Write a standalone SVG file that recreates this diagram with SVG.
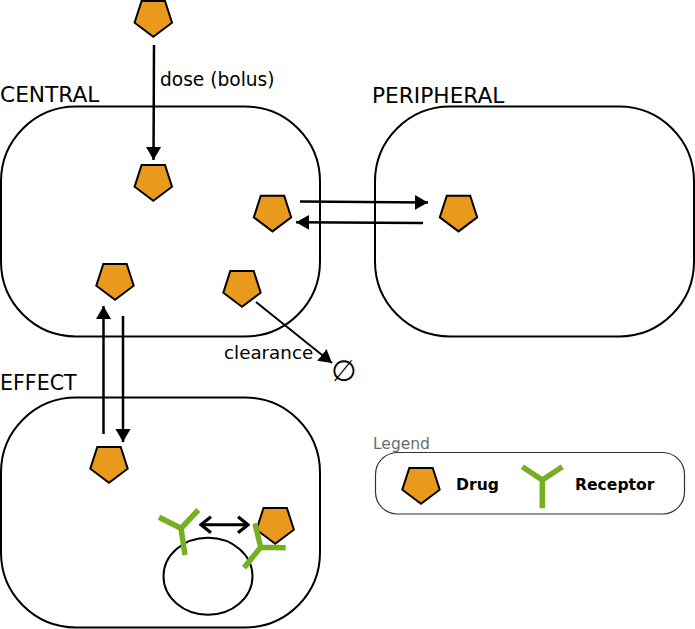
<svg xmlns="http://www.w3.org/2000/svg" width="695" height="629" viewBox="0 0 695 629">
<style>
text{font-family:"DejaVu Sans",Verdana,sans-serif;fill:#000}
.comp{fill:none;stroke:#000;stroke-width:2}
.title{font-size:21.7px}
.lab{font-size:18.6px}
.leg{font-size:15.6px;font-weight:bold}
.drug{fill:#e99a1c;stroke:#000;stroke-width:2;stroke-linejoin:miter}
.rec{fill:none;stroke:#74b020;stroke-width:5.5}
.arr{fill:none;stroke:#000;stroke-width:2.5}
.ah{fill:#000}
</style>
<defs>
<polygon id="pent" class="drug" points="-11.7,-18 11.7,-18 18.7,3.7 0,17.7 -18.7,3.7"/>
<marker id="head" markerUnits="userSpaceOnUse" markerWidth="16" markerHeight="18" refX="13" refY="9" orient="auto"><path class="ah" d="M0,1.500 L13,9 L0,16.500 Z"/></marker>
<marker id="open" markerUnits="userSpaceOnUse" markerWidth="14" markerHeight="20" refX="12" refY="10" orient="auto-start-reverse"><path d="M2,2 L12,10 L2,18" fill="none" stroke="#000" stroke-width="3.200"/></marker>
</defs>
<g id="central"><rect class="comp" x="1" y="106.500" width="319" height="230" rx="75" ry="75"/><text class="title" x="0" y="102">CENTRAL</text></g>
<g id="peripheral"><rect class="comp" x="375" y="106.500" width="319" height="230" rx="75" ry="75"/><text class="title" x="372" y="103">PERIPHERAL</text></g>
<g id="effect"><rect class="comp" x="1" y="397.500" width="319" height="230" rx="75" ry="75"/><text class="title" x="0" y="390" style="font-size:20.600px">EFFECT</text></g>
<g id="drug-dose"><use href="#pent" x="153.300" y="19"/></g>
<g id="drug-central-top"><use href="#pent" x="153.300" y="183"/></g>
<g id="drug-central-right"><use href="#pent" x="272.500" y="213.700"/></g>
<g id="drug-peripheral"><use href="#pent" x="458.500" y="213.700"/></g>
<g id="drug-central-left"><use href="#pent" x="115" y="282"/></g>
<g id="drug-central-clear"><use href="#pent" x="242" y="289"/></g>
<g id="drug-effect"><use href="#pent" x="109" y="465"/></g>
<g id="cell"><ellipse cx="208" cy="576.300" rx="44.500" ry="38.500" fill="none" stroke="#000" stroke-width="2"/></g>
<g id="receptor-free"><path class="rec" d="M185,555 L181,528.300 M159,517.300 L181,528.300 L198.300,510"/></g>
<g id="drug-bound"><use href="#pent" x="275.200" y="526"/></g>
<g id="receptor-bound"><path class="rec" d="M244,567.700 L260.700,547.300 M255,523.300 L260.700,547.300 L285.700,547.700"/></g>
<g id="connectors">
<path class="arr" d="M154,45 L153.500,160" marker-end="url(#head)"/>
<path class="arr" d="M300,201.500 L428,202.500" marker-end="url(#head)"/>
<path class="arr" d="M423,223 L296,222.300" marker-end="url(#head)"/>
<path class="arr" d="M103.500,434 L103.500,306" marker-end="url(#head)"/>
<path class="arr" d="M123,316 L123,442" marker-end="url(#head)"/>
<path d="M256,302 L332,363" fill="none" stroke="#000" stroke-width="2" marker-end="url(#head)"/>
<path d="M201,524.700 L248,524.700" fill="none" stroke="#000" stroke-width="3" marker-start="url(#open)" marker-end="url(#open)"/>
</g>
<g id="labels">
<text class="lab" x="160" y="86">dose (bolus)</text>
<text class="lab" x="224" y="359" style="font-size:18.300px">clearance</text>
<text x="344" y="381" text-anchor="middle" font-size="29" font-style="italic">∅</text>
</g>
<g id="legend">
<text x="373" y="449" font-size="15.500" style="fill:#6b6b6b">Legend</text>
<rect x="375.500" y="452.500" width="309" height="61.500" rx="22" ry="22" fill="none" stroke="#333" stroke-width="1.200"/>
<use href="#pent" x="421" y="486"/>
<text class="leg" x="456" y="490">Drug</text>
<path class="rec" d="M542.300,508.300 L542.300,480 M522.300,466.700 L542.300,480 L562.300,466.700"/>
<text class="leg" x="575" y="490">Receptor</text>
</g>
</svg>
